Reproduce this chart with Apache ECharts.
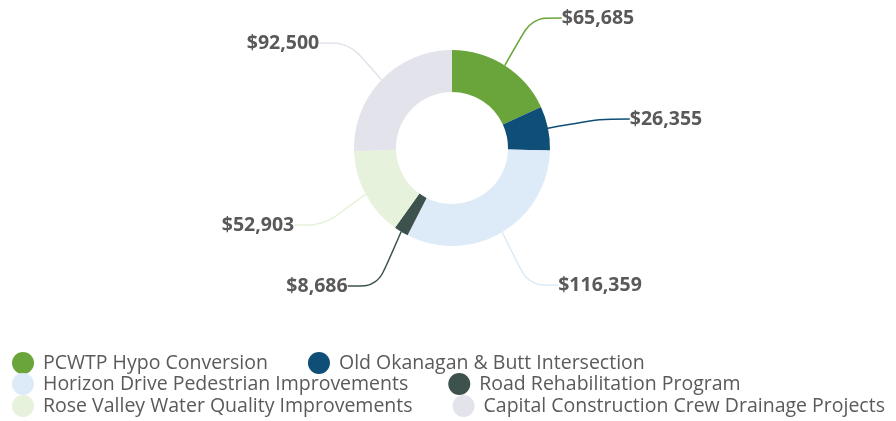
<!DOCTYPE html>
<html>
<head>
<meta charset="utf-8">
<script src="https://cdn.jsdelivr.net/npm/echarts@6/dist/echarts.min.js"></script>
<style>
  html, body { margin: 0; padding: 0; background: #fff; }
  #chart { width: 896px; height: 421px; }
</style>
</head>
<body>
<div id="chart"></div>
<script>
// project names and amounts, clockwise from 12 o'clock
const projects = [
  'PCWTP Hypo Conversion',
  'Old Okanagan & Butt Intersection',
  'Horizon Drive Pedestrian Improvements',
  'Road Rehabilitation Program',
  'Rose Valley Water Quality Improvements',
  'Capital Construction Crew Drainage Projects'
]
const amounts = [65685, 26355, 116359, 8686, 52903, 92500]
const colors = ['#6aa53b', '#0e4e77', '#dcebf7', '#3e524d', '#e7f2dc', '#e3e3ec']

// where each value label sits (label centre, px)
const labelSpots = [[598, 18], [666, 119], [600, 285], [317, 286], [258, 225], [283, 43]]

const chart = echarts.init(document.getElementById('chart'))

function fmt(v) {
  return '$' + v.toLocaleString('en-US')
}

function legendRow(names, top) {
  return {
    orient: 'horizontal',
    left: 7,
    top: top,
    icon: 'circle',
    itemWidth: 30,
    itemHeight: 22,
    itemGap: 40,
    selectedMode: false,
    data: names,
    textStyle: { fontFamily: 'Open Sans', fontSize: 19.5, color: '#5a5a5a' }
  }
}

chart.setOption({
  animation: false,
  color: colors,
  legend: [
    legendRow(projects.slice(0, 2), 347),
    legendRow(projects.slice(2, 4), 368),
    legendRow(projects.slice(4, 6), 390)
  ],
  series: [
    {
      type: 'pie',
      center: [452, 148],
      radius: [56, 98],
      startAngle: 90,
      clockwise: true,
      data: projects.map((name, i) => ({ name: name, value: amounts[i] })),
      label: {
        show: true,
        formatter: p => fmt(p.value),
        fontFamily: 'Open Sans',
        fontWeight: 'bold',
        fontSize: 19.5,
        color: '#595959'
      },
      labelLine: {
        show: true,
        smooth: 0.3,
        lineStyle: { width: 1.5 }
      },
      labelLayout: params => ({
        x: labelSpots[params.dataIndex][0],
        y: labelSpots[params.dataIndex][1],
        align: 'center',
        verticalAlign: 'middle'
      })
    }
  ]
})
</script>
</body>
</html>
